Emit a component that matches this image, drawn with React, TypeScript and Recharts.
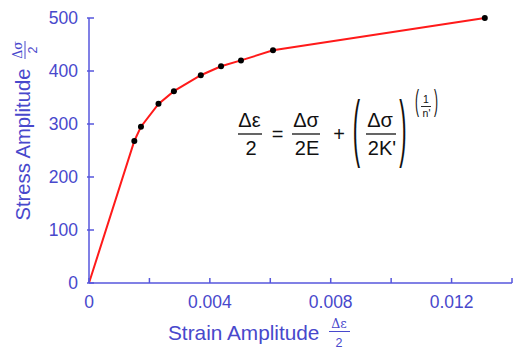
import { LineChart, Line, XAxis, YAxis, Customized } from 'recharts';

const strain = [0, 0.0015, 0.00172, 0.0023, 0.00281, 0.0037, 0.00437, 0.00503, 0.00609, 0.0131];
const stress = [0, 268, 295, 338, 362, 392, 409, 420, 439, 500];
const xTicks = [0, 0.002, 0.004, 0.006, 0.008, 0.01, 0.012, 0.014];
const xLabels = ['0', '', '0.004', '', '0.008', '', '0.012', ''];
const yTicks = [0, 100, 200, 300, 400, 500];

const data = strain.map((s, i) => ({ strain: s, stress: stress[i] }));

const AXIS = '#5656dc';
const TEXT = '#4848cc';
const FONT = 'Arial, "Liberation Sans", sans-serif';

const XTick = (props: any) => {
  const { x, y, index } = props;
  return (
    <g>
      <line x1={x} x2={x} y1={y} y2={y - 5} stroke={AXIS} strokeWidth={1.5} />
      <text x={x} y={y + 25} textAnchor="middle" fill={TEXT} fontSize={17.5} fontFamily={FONT}>
        {xLabels[index]}
      </text>
    </g>
  );
};

const YTick = (props: any) => {
  const { x, y, payload } = props;
  return (
    <g>
      <line x1={x - 2} x2={x + 5} y1={y} y2={y} stroke={AXIS} strokeWidth={1.5} />
      <text x={x - 11} y={y + 6} textAnchor="end" fill={TEXT} fontSize={17.5} fontFamily={FONT}>
        {payload.value}
      </text>
    </g>
  );
};

const Dot = (props: any) => {
  const { cx, cy, index } = props;
  if (index === 0) return <g key={`d${index}`} />;
  return <circle key={`d${index}`} cx={cx} cy={cy} r={3} fill="#000" />;
};

const Overlay = () => {
  const f = { fontFamily: FONT, fill: '#111', textAnchor: 'middle' as const };
  return (
    <g>
      {/* axis titles */}
      <text x={168} y={340} fill={TEXT} fontSize={20.8} fontFamily={FONT}>Strain Amplitude</text>
      <text x={339} y={328} fill={TEXT} fontSize={12.5} fontFamily="DejaVu Serif, serif" textAnchor="middle">Δε</text>
      <line x1={329} x2={350} y1={331.5} y2={331.5} stroke={TEXT} strokeWidth={1} />
      <text x={339} y={346.5} fill={TEXT} fontSize={12.5} fontFamily={FONT} textAnchor="middle">2</text>

      <text transform="translate(30,144.5) rotate(-90)" textAnchor="middle" fill={TEXT} fontSize={20.3} fontFamily={FONT}>
        Stress Amplitude
      </text>
      <g transform="translate(26,50) rotate(-90)">
        <text x={0} y={-4} textAnchor="middle" fill={TEXT} fontSize={12.5} fontFamily="DejaVu Serif, serif">Δσ</text>
        <line x1={-9} x2={9} y1={-1} y2={-1} stroke={TEXT} strokeWidth={1} />
        <text x={0} y={11} textAnchor="middle" fill={TEXT} fontSize={12.5} fontFamily={FONT}>2</text>
      </g>

      {/* formula */}
      <text x={249.5} y={127} fontSize={20} {...f}>Δε</text>
      <line x1={238} x2={262} y1={134} y2={134} stroke="#111" strokeWidth={1.3} />
      <text x={251} y={155} fontSize={20} {...f}>2</text>
      <text x={277.5} y={141} fontSize={20} {...f}>=</text>
      <text x={306} y={127} fontSize={20} {...f}>Δσ</text>
      <line x1={292} x2={320} y1={134} y2={134} stroke="#111" strokeWidth={1.3} />
      <text x={307} y={155} fontSize={20} {...f}>2E</text>
      <text x={339} y={141} fontSize={20} {...f}>+</text>
      <g transform="translate(356.5,134) scale(1,3.4)">
        <text x={0} y={5.7} fontSize={22} {...f}>(</text>
      </g>
      <text x={380} y={127} fontSize={20} {...f}>Δσ</text>
      <line x1={366} x2={396} y1={134} y2={134} stroke="#111" strokeWidth={1.3} />
      <text x={382} y={155} fontSize={20} {...f}>2K'</text>
      <g transform="translate(403,134) scale(1,3.4)">
        <text x={0} y={5.7} fontSize={22} {...f}>)</text>
      </g>
      <g transform="translate(417,104) scale(1,2.4)">
        <text x={0} y={3} fontSize={12} {...f}>(</text>
      </g>
      <text x={426} y={103} fontSize={10.5} {...f}>1</text>
      <line x1={421} x2={431} y1={106.5} y2={106.5} stroke="#111" strokeWidth={0.9} />
      <text x={426.5} y={117} fontSize={10.5} {...f}>n'</text>
      <g transform="translate(436,104) scale(1,2.4)">
        <text x={0} y={3} fontSize={12} {...f}>)</text>
      </g>
    </g>
  );
};

export default function App() {
  return (
    <div style={{ position: 'absolute', left: 0, top: 0, width: 515, height: 349, background: '#fff' }}>
      <LineChart width={515} height={349} data={data} margin={{ top: 18, right: 3, left: 0, bottom: 0 }}>
        <XAxis
          type="number"
          dataKey="strain"
          domain={[0, 0.014]}
          ticks={xTicks}
          interval={0}
          height={66}
          tickSize={0}
          tickMargin={0}
          tickLine={false}
          axisLine={{ stroke: AXIS, strokeWidth: 1.5 }}
          tick={XTick}
        />
        <YAxis
          type="number"
          domain={[0, 500]}
          ticks={yTicks}
          interval={0}
          width={89}
          tickSize={0}
          tickMargin={0}
          tickLine={false}
          axisLine={{ stroke: AXIS, strokeWidth: 1.5 }}
          tick={YTick}
        />
        <Line
          type="linear"
          dataKey="stress"
          stroke="#ff1a1a"
          strokeWidth={2}
          dot={Dot}
          activeDot={false}
          isAnimationActive={false}
        />
        <Customized component={Overlay} />
      </LineChart>
    </div>
  );
}
